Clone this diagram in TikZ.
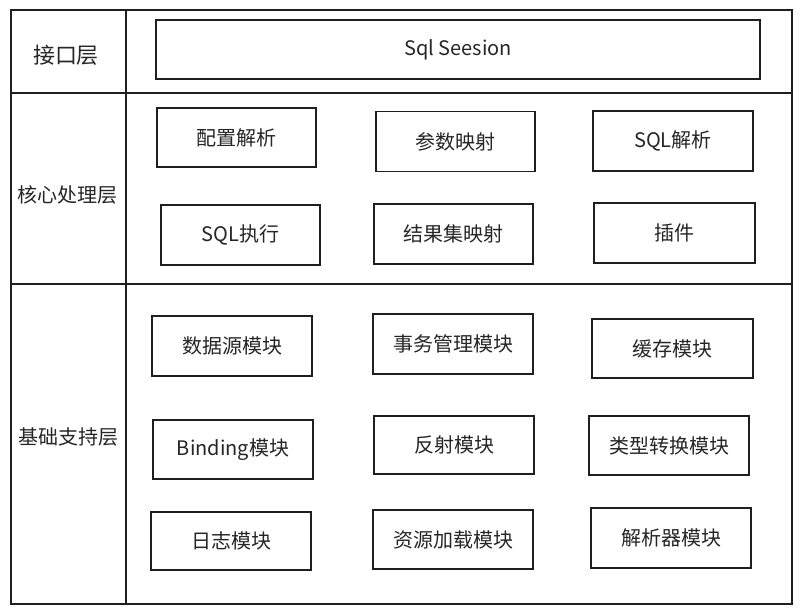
\documentclass[tikz,border=0pt]{standalone}
\usepackage{fontspec}
\setmainfont{Noto Sans CJK SC}
\begin{document}
\begin{tikzpicture}[x=1pt,y=-1pt,
  ink/.style={draw=black!88, line width=1.1pt},
  module/.style={ink, rectangle, inner sep=0pt, minimum width=160pt, minimum height=60pt,
    font=\fontsize{20}{24}\selectfont, text=black!85},
  layerlabel/.style={inner sep=0pt, font=\fontsize{20}{24}\selectfont, text=black!85}]
\useasboundingbox (0,0) rectangle (804,614);
\fill[white] (0,0) rectangle (804,614);

% outer frame and layer grid
\draw[ink] (11,10) rectangle (792,604);
\draw[ink] (126,10) -- (126,604);
\draw[ink] (11,93) -- (792,93);
\draw[ink] (11,284) -- (792,284);

% layer names
\node[layerlabel, font=\fontsize{22}{26}\selectfont] (l1) at (66,55) {接口层};
\node[layerlabel] (l2) at (67,195) {核心处理层};
\node[layerlabel] (l3) at (69,437) {基础支持层};

% interface layer
\node[module, minimum width=604pt, minimum height=59pt] (sess) at (458,49.5) {Sql Seesion};

% core processing layer
\node[module, minimum width=159pt, minimum height=59pt] (cfg) at (236.5,137.5) {配置解析};
\node[module, minimum width=159pt] (param) at (455.5,141.5) {参数映射};
\node[module] (sqlp) at (673,141) {SQL解析};
\node[module, minimum width=159pt] (exec) at (240.5,235) {SQL执行};
\node[module, minimum width=159pt] (rset) at (453.5,234) {结果集映射};
\node[module, minimum width=161pt] (plug) at (674.5,233) {插件};

% basic support layer
\node[module] (ds) at (232,346) {数据源模块};
\node[module] (tx) at (453,344) {事务管理模块};
\node[module, minimum width=161pt, minimum height=59pt] (cache) at (672.5,348.5) {缓存模块};
\node[module, minimum height=59pt] (bind) at (233,449.5) {Binding模块};
\node[module, minimum height=58pt] (refl) at (454,445) {反射模块};
\node[module, minimum height=59pt] (conv) at (669,445.5) {类型转换模块};
\node[module, minimum height=58pt] (log) at (231,541) {日志模块};
\node[module, minimum height=59pt] (res) at (453,539.5) {资源加载模块};
\node[module] (pars) at (671,538) {解析器模块};
\end{tikzpicture}
\end{document}
